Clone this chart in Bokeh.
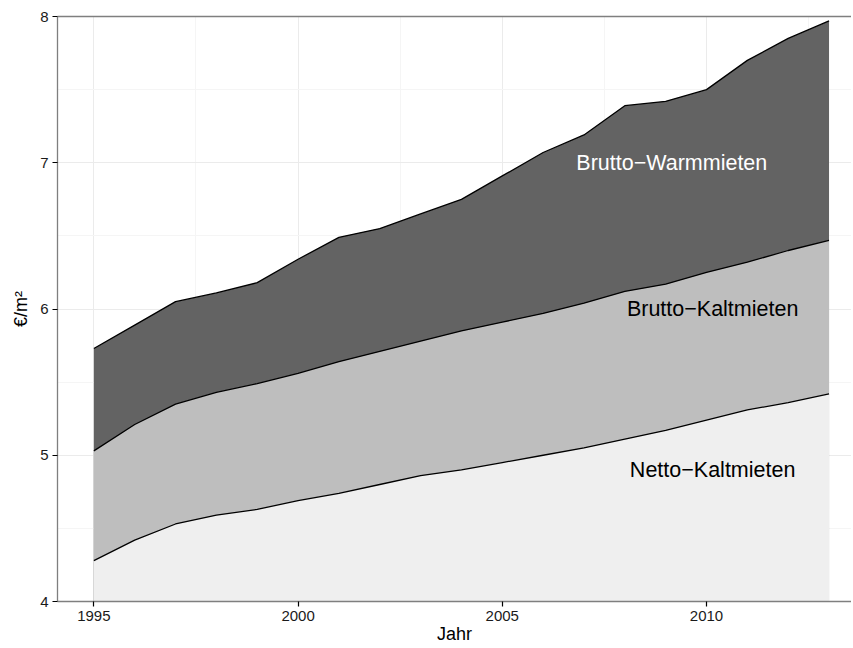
from bokeh.plotting import figure
from bokeh.models import ColumnDataSource, FixedTicker, LinearAxis, Range1d
from bokeh.core.properties import value
from bokeh.embed import file_html
from bokeh.resources import INLINE

# ---- data ----
years = list(range(1995, 2014))
netto_kalt = [4.28, 4.42, 4.53, 4.59, 4.63, 4.69, 4.74, 4.80, 4.86, 4.90,
              4.95, 5.00, 5.05, 5.11, 5.17, 5.24, 5.31, 5.36, 5.42]
brutto_kalt = [5.03, 5.21, 5.35, 5.43, 5.49, 5.56, 5.64, 5.71, 5.78, 5.85,
               5.91, 5.97, 6.04, 6.12, 6.17, 6.25, 6.32, 6.40, 6.47]
brutto_warm = [5.73, 5.89, 6.05, 6.11, 6.18, 6.34, 6.49, 6.55, 6.65, 6.75,
               6.91, 7.07, 7.19, 7.39, 7.42, 7.50, 7.70, 7.85, 7.97]

label_text = ["Brutto\u2212Warmmieten", "Brutto\u2212Kaltmieten", "Netto\u2212Kaltmieten"]
label_x = [2009.15, 2010.15, 2010.15]
label_y = [7.0, 6.0, 4.9]

x_ticks = [1995, 2000, 2005, 2010]
x_minor = [1997.5, 2002.5, 2007.5, 2012.5]
y_ticks = [4, 5, 6, 7, 8]
y_minor = [4.5, 5.5, 6.5, 7.5]

FONT = "Liberation Sans"

src = ColumnDataSource(dict(year=years, netto=netto_kalt, kalt=brutto_kalt, warm=brutto_warm))

p = figure(width=851, height=646, output_backend="svg", toolbar_location=None,
           x_range=Range1d(1994.11, 2013.55), y_range=Range1d(4, 8),
           min_border_left=57, min_border_top=16, min_border_right=0, min_border_bottom=40)
p.outline_line_color = None
p.background_fill_color = "white"

# areas (overlapping, from the base)
p.varea(x="year", y1=0, y2="warm", source=src, fill_color="#636363")
p.varea(x="year", y1=0, y2="kalt", source=src, fill_color="#bebebe")
p.varea(x="year", y1=0, y2="netto", source=src, fill_color="#efefef")
for col in ["warm", "kalt", "netto"]:
    p.line(x="year", y=col, source=src, line_color="black", line_width=1.3)

# labels
lsrc = ColumnDataSource(dict(x=label_x, y=label_y, t=label_text,
                             c=["white", "black", "black"]))
p.text(x="x", y="y", text="t", source=lsrc, text_color="c",
       text_font=value(FONT), text_font_size="21.5px",
       text_align="center", text_baseline="middle")

# grids
p.xgrid.ticker = FixedTicker(ticks=x_ticks, minor_ticks=x_minor)
p.ygrid.ticker = FixedTicker(ticks=y_ticks, minor_ticks=y_minor)
for g in (p.xgrid, p.ygrid):
    g.grid_line_color = "#ebebeb"
    g.grid_line_width = 1
    g.minor_grid_line_color = "#f5f5f5"
    g.minor_grid_line_width = 1
    g.level = "underlay"

# axes
p.xaxis.ticker = FixedTicker(ticks=x_ticks, minor_ticks=[])
p.yaxis.ticker = FixedTicker(ticks=y_ticks, minor_ticks=[])
p.xaxis.axis_label = "Jahr"
p.yaxis.axis_label = "\u20ac/m\u00b2"
for ax in (p.xaxis[0], p.yaxis[0]):
    ax.axis_line_color = "#7f7f7f"
    ax.axis_line_width = 1.3
    ax.major_tick_line_color = "black"
    ax.major_tick_line_width = 1.2
    ax.major_tick_in = 0
    ax.major_tick_out = 5
    ax.minor_tick_line_color = None
    ax.major_label_text_font = FONT
    ax.major_label_text_font_size = "15px"
    ax.major_label_text_color = "#1a1a1a"
    ax.major_label_standoff = 4
    ax.axis_label_text_font = FONT
    ax.axis_label_text_font_size = "18px"
    ax.axis_label_text_font_style = "normal"
    ax.axis_label_text_color = "black"
    ax.axis_label_standoff = 0
p.yaxis[0].axis_label_standoff = 6

# top border line
top = LinearAxis(ticker=FixedTicker(ticks=[]), axis_line_color="#7f7f7f", axis_line_width=1.3,
                 major_tick_line_color=None, minor_tick_line_color=None,
                 major_label_text_font_size="0px")
p.add_layout(top, "above")

open("out.html", "w").write(file_html(p, INLINE))
